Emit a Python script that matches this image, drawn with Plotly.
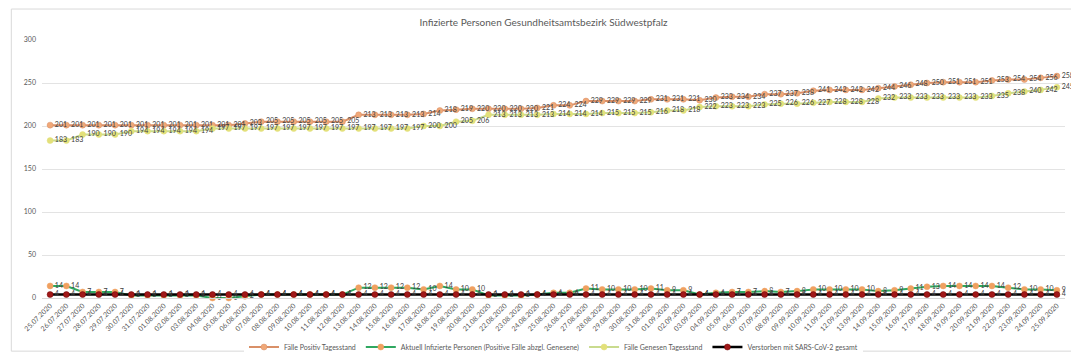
import plotly.graph_objects as go

dates = ["25.07.2020","26.07.2020","27.07.2020","28.07.2020","29.07.2020","30.07.2020","31.07.2020",
         "01.08.2020","02.08.2020","03.08.2020","04.08.2020","05.08.2020","06.08.2020","07.08.2020",
         "08.08.2020","09.08.2020","10.08.2020","11.08.2020","12.08.2020","13.08.2020","14.08.2020",
         "15.08.2020","16.08.2020","17.08.2020","18.08.2020","19.08.2020","20.08.2020","21.08.2020",
         "22.08.2020","23.08.2020","24.08.2020","25.08.2020","26.08.2020","27.08.2020","28.08.2020",
         "29.08.2020","30.08.2020","31.08.2020","01.09.2020","02.09.2020","03.09.2020","04.09.2020",
         "05.09.2020","06.09.2020","07.09.2020","08.09.2020","09.09.2020","10.09.2020","11.09.2020",
         "12.09.2020","13.09.2020","14.09.2020","15.09.2020","16.09.2020","17.09.2020","18.09.2020",
         "19.09.2020","20.09.2020","21.09.2020","22.09.2020","23.09.2020","24.09.2020","25.09.2020"]

positiv = [201,201,201,201,201,201,201,201,201,201,201,201,203,205,205,205,205,205,205,213,213,
           213,213,214,218,219,220,220,220,220,221,224,224,229,229,229,229,231,231,231,230,233,
           234,234,237,237,238,241,242,242,242,244,246,248,250,251,251,251,253,254,254,256,258]

aktuell = [14,14,7,7,7,3,3,3,3,3,0,0,2,4,4,4,4,4,4,12,12,
           12,12,10,14,10,10,3,3,3,4,6,6,11,10,10,10,11,9,9,4,6,
           7,7,8,7,8,10,10,10,10,8,9,11,13,14,14,14,14,12,10,10,9]

genesen = [183,183,190,190,190,194,194,194,194,194,197,197,197,197,197,197,197,197,197,197,197,
           197,197,200,200,205,206,213,213,213,213,214,214,214,215,215,215,216,218,218,222,223,
           223,223,225,226,226,227,228,228,228,232,233,233,233,233,233,233,235,238,240,242,245]

verstorben = [4]*63

names = ["Fälle Positiv Tagesstand",
         "Aktuell Infizierte Personen (Positive Fälle abzgl. Genesene)",
         "Fälle Genesen Tagesstand",
         "Verstorben mit SARS-CoV-2 gesamt"]

FONT = "Lato, Carlito, 'Liberation Sans', sans-serif"
LBL = dict(family=FONT, size=7, color="#404040")

fig = go.Figure()

def add(y, name, lc, mc, lw, mlc):
    fig.add_trace(go.Scatter(
        x=dates, y=y, name=name, mode="lines+markers+text",
        line=dict(color=lc, width=lw),
        marker=dict(color=mc, size=6, line=dict(color=mlc, width=0.5)),
        text=[str(v) for v in y], textposition="middle right",
        textfont=LBL, cliponaxis=False))

add(positiv, names[0], "#D99068", "#F0A878", 2, "#D99068")
add(aktuell, names[1], "#2FA860", "#F0A060", 2, "#F0A060")
add(genesen, names[2], "#C9DB8E", "#E3E07A", 2, "#E3E07A")
add(verstorben, names[3], "#000000", "#A01818", 2.5, "#700000")

fig.update_layout(
    width=1071, height=344,
    margin=dict(l=34, r=14, t=32, b=54, autoexpand=False),
    paper_bgcolor="white", plot_bgcolor="white",
    title=dict(text="Infizierte Personen Gesundheitsamtsbezirk Südwestpfalz",
               x=0.5, xanchor="center", y=1 - 14 / 344, yanchor="middle",
               font=dict(family=FONT, size=10, color="#595959")),
    showlegend=True,
    legend=dict(orientation="h", x=0.5, xanchor="center", y=-0.19, yanchor="middle",
                font=dict(family=FONT, size=7, color="#595959"),
                itemwidth=30, tracegroupgap=0),
    font=dict(family=FONT),
)

fig.update_xaxes(type="category", range=[-0.5, len(dates) - 0.5], autorange=False,
                 showgrid=False, showline=True, linecolor="#D9D9D9",
                 tickangle=-45, tickfont=dict(family=FONT, size=7, color="#595959"),
                 ticks="", automargin=False)
fig.update_yaxes(range=[0, 300], dtick=50, showgrid=True, gridcolor="#E3E3E3",
                 zeroline=False, showline=False, ticklabelstandoff=5,
                 tickfont=dict(family=FONT, size=7, color="#595959"),
                 ticks="", automargin=False)

fig.add_shape(type="rect", xref="paper", yref="paper",
              x0=-0.030, x1=1.0098, y0=-0.206, y1=1.12,
              line=dict(color="#D9D9D9", width=1), fillcolor="rgba(0,0,0,0)")

fig.write_html("out.html")
